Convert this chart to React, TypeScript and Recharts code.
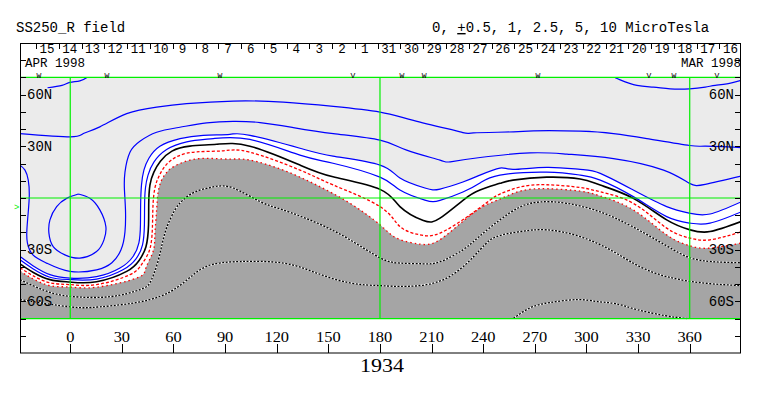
import { Area, ComposedChart, Line, ReferenceLine, Scatter, XAxis, YAxis } from 'recharts';

// map frame: longitude across, latitude up; the frame itself spans +-90 deg
const LON_DOMAIN: [number, number] = [-29.2, 389.8];
const LAT_DOMAIN: [number, number] = [-90, 90];

const LON_TICKS = [0, 30, 60, 90, 120, 150, 180, 210, 240, 270, 300, 330, 360];
const LAT_TICKS = [-80, -70, -60, -50, -40, -30, -20, -10, 0, 10, 20, 30, 40, 50, 60, 70, 80];
const LAT_LABEL_VALUES = [60, 30, -30, -60];
const LAT_LABELS = ['60N', '30N', '30S', '60S'];
const GRID_LONS = [0, 180, 360];

// day-of-month ticks along the top
const DAY_LONS = [
  -19.9, -6.7, 6.6, 19.8, 33.1, 46.3, 59.5, 72.8, 86.0, 99.3, 112.5, 125.7, 139.0, 152.2, 165.5, 178.7,
  191.9, 205.2, 218.4, 231.7, 244.9, 258.1, 271.4, 284.6, 297.9, 311.1, 324.3, 337.6, 350.8, 364.1, 377.3,
];
const DAY_LABELS = [
  '15', '14', '13', '12', '11', '10', '9', '8', '7', '6', '5', '4', '3', '2', '1',
  '31', '30', '29', '28', '27', '26', '25', '24', '23', '22', '21', '20', '19', '18', '17', '16',
];

const MARK_LONS = [-18.2, 21.3, 87.0, 164.3, 192.8, 205.6, 271.8, 336.3, 350.8, 375.8];
const MARK_KINDS = ['W', 'W', 'W', 'V', 'W', 'W', 'W', 'V', 'W', 'V'];
const MARK_LAT = 72;

// contours, [lon, lat]
const POS10_WEST = [[-13.2, 64.0], [-4.8, 65.4], [-0.2, 67.1], [5.6, 68.0], [9.7, 70.0]];
const POS10_EAST = [
  [316.7, 69.8], [319.6, 68.6], [329.3, 65.4], [338.9, 64.4], [348.6, 63.4], [359.9, 63.4],
  [369.0, 64.4], [374.8, 65.4], [381.6, 66.3], [389.8, 68.3],
];
const POS5 = [
  [-29.2, 37.4], [0, 35.5], [7.6, 37.4], [17.2, 41.3], [32.8, 49.0], [50.2, 52.8], [67.6, 54.8],
  [94.8, 56.3], [123.8, 55.7], [152.9, 53.2], [180.0, 49.9], [199.4, 45.1], [226.6, 38.4],
  [234.3, 37.8], [257.6, 38.4], [269.2, 39.0], [296.3, 38.8], [315.7, 37.4], [335.1, 34.5],
  [359.9, 30.5], [369.0, 30.1], [389.8, 29.3],
];
const POS5_LOOP = [
  [4.7, 2.3], [11.4, -0.2], [17.2, -6.9], [20.7, -16.6], [19.6, -24.3], [15.3, -31.1], [5.6, -34.9],
  [-3.1, -33.0], [-9.9, -28.2], [-12.4, -20.4], [-11.8, -12.7], [-7.9, -5.0], [-2.1, -0.2], [4.7, 2.3],
];
const POS2_5 = [
  [-29.2, 19.1], [-26.3, 16.2], [-24.4, 10.4], [-23.8, 1.7], [-24.4, -8.1], [-25.2, -18.5],
  [-24.9, -26.0], [-21.7, -33.0], [-13.7, -37.8], [-0.2, -42.6], [15.3, -41.7], [24.2, -37.6],
  [29.5, -30.1], [31.8, -19.7], [32.1, -6.9], [31.5, 4.6], [31.8, 15.0], [34.7, 26.6], [40.5, 33.0],
  [50.2, 38.2], [63.7, 41.1], [79.3, 43.6], [94.7, 44.5], [110.3, 43.8], [129.6, 40.9], [152.9, 37.4],
  [180.0, 33.6], [195.5, 27.8], [214.9, 22.0], [220.7, 21.0], [238.2, 23.5], [267.2, 26.2],
  [288.6, 25.5], [315.7, 22.9], [344.8, 16.2], [359.9, 8.5], [369.0, 7.9], [389.8, 12.7],
];
const POS1 = [
  [-29.2, -34.0], [-21.7, -39.3], [-11.8, -44.5], [-0.2, -46.5], [15.3, -45.7], [28.9, -40.7],
  [36.4, -34.1], [39.9, -26.0], [40.8, -15.6], [40.9, -4.0], [41.4, 7.5], [42.8, 16.2], [45.7, 23.1],
  [52.1, 30.1], [63.8, 34.5], [77.3, 36.4], [92.8, 37.0], [104.5, 36.4], [133.5, 28.9], [152.7, 24.3],
  [180.0, 19.1], [191.6, 11.6], [206.1, 5.8], [214.9, 5.2], [228.2, 9.3], [238.1, 13.3], [249.7, 17.4],
  [257.3, 16.6], [276.9, 17.8], [296.3, 16.6], [308.0, 14.3], [327.2, 4.6], [346.6, -5.0],
  [360.2, -8.9], [371.8, -9.3], [389.8, -2.3],
];
const POS0_5 = [
  [-29.2, -35.9], [-21.7, -41.1], [-11.8, -46.0], [-0.2, -47.4], [15.3, -47.1], [30.6, -41.7],
  [38.2, -35.3], [42.0, -27.2], [43.1, -15.6], [43.2, -4.0], [43.7, 5.8], [45.2, 13.3], [48.6, 20.8],
  [56.0, 28.1], [67.7, 32.6], [83.1, 34.5], [104.4, 34.0], [133.5, 24.9], [152.7, 20.2], [180.0, 12.1],
  [191.6, 4.6], [206.1, -1.2], [214.9, -1.4], [228.2, 3.5], [238.1, 8.7], [249.7, 13.3], [276.9, 15.0],
  [296.3, 13.3], [308.0, 10.4], [327.2, 0.8], [346.6, -10.8], [360.2, -14.6], [371.8, -14.6],
  [389.8, -8.1],
];
const NEUTRAL = [
  [-29.2, -38.2], [-21.7, -43.1], [-11.8, -47.4], [-0.2, -48.8], [15.3, -48.6], [32.8, -42.6],
  [39.9, -36.4], [44.0, -28.3], [45.5, -15.6], [45.6, -4.0], [46.3, 7.5], [48.6, 15.0], [52.4, 21.4],
  [59.1, 27.2], [69.5, 30.1], [85.1, 31.2], [104.4, 30.1], [133.5, 19.1], [152.7, 12.3], [180.0, 5.0],
  [191.6, -5.0], [205.2, -13.1], [214.9, -11.7], [228.4, -1.2], [238.1, 4.6], [249.7, 8.5],
  [257.3, 10.4], [276.9, 12.1], [296.3, 11.0], [308.0, 7.5], [327.2, -0.2], [346.6, -12.7],
  [360.2, -18.5], [371.8, -19.5], [389.8, -13.7],
];
const NEG0_5 = [
  [-29.2, -40.5], [-21.7, -45.1], [-11.8, -49.2], [-0.2, -50.3], [15.3, -50.3], [34.7, -44.5],
  [41.7, -38.2], [46.3, -29.5], [47.8, -15.6], [48.1, -4.0], [49.2, 5.8], [51.6, 12.7], [55.6, 19.1],
  [62.6, 24.3], [73.5, 26.8], [88.9, 27.4], [104.4, 26.6], [133.5, 16.2], [152.9, 7.5], [180.0, -5.0],
  [191.6, -16.6], [203.2, -21.4], [214.9, -20.4], [232.3, -9.8], [244.0, -1.2], [249.7, 2.3],
  [261.4, 6.4], [276.9, 7.7], [296.3, 6.1], [308.0, 3.6], [327.2, -3.1], [346.6, -17.5],
  [360.2, -23.3], [371.8, -24.3], [389.8, -19.7],
];
const NEG1 = [
  [-29.2, -42.6], [-21.7, -46.9], [-11.8, -50.9], [-0.2, -51.7], [15.3, -51.8], [38.6, -46.5],
  [44.0, -40.5], [48.1, -31.2], [49.2, -21.4], [50.2, -6.9], [51.0, 2.9], [53.1, 10.4], [56.2, 15.0],
  [59.9, 18.1], [69.6, 22.0], [81.2, 23.0], [92.8, 22.6], [104.4, 22.0], [123.8, 16.2], [143.2, 7.5],
  [162.6, -3.1], [180.0, -15.6], [189.7, -23.3], [203.2, -26.8], [213.0, -25.3], [224.6, -16.6],
  [238.1, -6.0], [249.7, -0.6], [261.4, 4.0], [276.9, 5.4], [296.3, 4.0], [308.0, 1.2], [327.2, -6.9],
  [346.6, -21.4], [360.2, -27.8], [371.8, -29.1], [389.8, -26.2],
];
const NEG2_5 = [
  [-29.2, -47.4], [-14.7, -53.8], [0.0, -57.1], [23.1, -57.3], [40.5, -53.2], [46.3, -49.2],
  [50.4, -38.8], [53.3, -27.2], [56.2, -16.8], [60.9, -6.9], [65.5, -1.2], [72.5, 3.5], [82.9, 6.4],
  [94.6, 5.8], [110.3, -2.1], [123.6, -6.9], [143.4, -14.5], [162.6, -24.3], [180.0, -34.7],
  [191.6, -37.8], [205.0, -38.2], [214.9, -37.0], [228.2, -30.1], [238.1, -22.0], [249.7, -12.7],
  [261.4, -5.2], [273.0, -2.3], [288.5, -3.1], [308.0, -8.1], [327.1, -16.8], [346.6, -27.8],
  [360.2, -34.7], [373.6, -37.0], [389.8, -37.6],
];
const NEG5 = [
  [-29.2, -59.0], [0.0, -63.2], [17.3, -63.2], [46.3, -59.0], [65.7, -49.3], [79.3, -39.7],
  [98.6, -36.9], [123.8, -37.8], [143.2, -43.6], [162.6, -49.3], [180.0, -50.9], [195.5, -51.3],
  [218.8, -46.5], [238.1, -30.1], [247.8, -22.4], [261.4, -19.5], [276.9, -18.5], [296.3, -22.4],
  [315.6, -31.1], [335.0, -41.7], [360.2, -48.4], [389.8, -50.9],
];
const NEG10 = [
  [257.5, -70], [267.2, -63.8], [278.8, -60.7], [295.1, -59.0], [306.7, -60.2], [316.6, -61.3],
  [329.4, -64.8], [345.6, -68.3], [358.3, -70],
];

const MONO = '"Liberation Mono", "DejaVu Sans Mono", monospace';
const SERIF = '"Liberation Serif", "DejaVu Serif", serif';
const BLUE = '#0000ff';
const RED = '#ff0000';
const GREEN = '#00f000';
const LIGHT = '#ebebeb';
const DARK = '#a5a5a5';

const toPoints = (rows: number[][]) => rows.map(([lon, lat]) => ({ lon, lat }));

type ContourStyle = { key: string; rows: number[][]; stroke: string; width: number; dash?: string };

const SOLID_CONTOURS: ContourStyle[] = [
  { key: 'p10w', rows: POS10_WEST, stroke: BLUE, width: 1.2 },
  { key: 'p10e', rows: POS10_EAST, stroke: BLUE, width: 1.2 },
  { key: 'p5', rows: POS5, stroke: BLUE, width: 1.2 },
  { key: 'p5loop', rows: POS5_LOOP, stroke: BLUE, width: 1.2 },
  { key: 'p2.5', rows: POS2_5, stroke: BLUE, width: 1.2 },
  { key: 'p1', rows: POS1, stroke: BLUE, width: 1.2 },
  { key: 'p0.5', rows: POS0_5, stroke: BLUE, width: 1.2 },
  { key: 'zero', rows: NEUTRAL, stroke: '#000', width: 1.6 },
  { key: 'n0.5', rows: NEG0_5, stroke: RED, width: 1.3, dash: '3 2' },
  { key: 'n1', rows: NEG1, stroke: RED, width: 1.3, dash: '1.5 3' },
];
const DOTTED_CONTOURS = [NEG2_5, NEG5, NEG10];

const markData = MARK_LONS.map((lon, i) => ({ lon, lat: MARK_LAT, mark: MARK_KINDS[i] }));

function BottomTick({ x, payload }: any) {
  const label = String(payload.value);
  const xx = Math.round(x) + 0.5;
  return (
    <g>
      <line x1={xx} x2={xx} y1={344} y2={353} stroke='#000' />
      <text x={x} y={342} textAnchor='middle' fontFamily={SERIF} fontSize={14}
        textLength={label.length * 8.2} lengthAdjust='spacingAndGlyphs' fill='#000'>
        {label}
      </text>
    </g>
  );
}

function DayTick({ x, index }: any) {
  const xx = Math.round(x) + 0.5;
  const label = DAY_LABELS[index];
  return (
    <g>
      <line x1={xx} x2={xx} y1={43} y2={49} stroke='#000' />
      <text x={x + (label.length === 1 ? 6 : 3.5)} y={53} fontFamily={MONO} fontSize={12.5} fill='#000'>
        {label}
      </text>
    </g>
  );
}

function LatTickLeft({ y, payload }: any) {
  const i = LAT_LABEL_VALUES.indexOf(payload.value);
  const yy = Math.round(y) + 0.5;
  return (
    <g>
      <line x1={20} x2={26} y1={yy} y2={yy} stroke='#000' />
      {i >= 0 && (
        <text x={27} y={y + 4.5} fontFamily={MONO} fontSize={14} fill='#000'>{LAT_LABELS[i]}</text>
      )}
    </g>
  );
}

function LatTickRight({ y, payload }: any) {
  const i = LAT_LABEL_VALUES.indexOf(payload.value);
  const yy = Math.round(y) + 0.5;
  return (
    <g>
      <line x1={735} x2={741} y1={yy} y2={yy} stroke='#000' />
      {i >= 0 && (
        <text x={734} y={y + 4.5} textAnchor='end' fontFamily={MONO} fontSize={14} fill='#000'>{LAT_LABELS[i]}</text>
      )}
    </g>
  );
}

function MarkShape(props: any) {
  const { cx, cy, payload } = props;
  return (
    <text x={cx} y={cy + 4} textAnchor='middle' fontFamily={MONO} fontSize={8} fill='#000'>
      {payload.mark}
    </text>
  );
}

export default function App() {
  return (
    <div style={{ position: 'absolute', left: 0, top: 0, width: 763, height: 396, background: '#fff' }}>
      {/* axes are 1px thick so they still render; margins make the plot 20..741 x 43..353 */}
      <ComposedChart width={763} height={396} margin={{ top: 42, right: 21, bottom: 42, left: 19 }}>
        <XAxis dataKey='lon' type='number' domain={LON_DOMAIN} allowDataOverflow ticks={LON_TICKS}
          interval={0} height={1} axisLine={false} tickLine={false} tick={BottomTick} />
        <XAxis xAxisId='top' dataKey='lon' orientation='top' type='number' domain={LON_DOMAIN} allowDataOverflow
          ticks={DAY_LONS} interval={0} height={1} axisLine={false} tickLine={false} tick={DayTick} />
        <YAxis dataKey='lat' type='number' domain={LAT_DOMAIN} allowDataOverflow ticks={LAT_TICKS}
          interval={0} width={1} axisLine={false} tickLine={false} tick={LatTickLeft} />
        <YAxis yAxisId='right' orientation='right' type='number' domain={LAT_DOMAIN} allowDataOverflow
          ticks={LAT_TICKS} interval={0} width={1} axisLine={false} tickLine={false} tick={LatTickRight} />

        <Area data={toPoints(POS1)} dataKey='lat' type='natural' baseValue={70} stroke='none'
          fill={LIGHT} fillOpacity={1} isAnimationActive={false} dot={false} activeDot={false} />
        <Area data={toPoints(NEG1)} dataKey='lat' type='natural' baseValue={-70} stroke='none'
          fill={DARK} fillOpacity={1} isAnimationActive={false} dot={false} activeDot={false} />

        {DOTTED_CONTOURS.map((rows, i) => (
          <Line key={`dw${i}`} data={toPoints(rows)} dataKey='lat' type='natural' stroke='#fff'
            strokeWidth={1.3} dot={false} activeDot={false} isAnimationActive={false} />
        ))}
        {DOTTED_CONTOURS.map((rows, i) => (
          <Line key={`db${i}`} data={toPoints(rows)} dataKey='lat' type='natural' stroke='#000'
            strokeWidth={1.3} strokeDasharray='2 1.5' dot={false} activeDot={false} isAnimationActive={false} />
        ))}
        {SOLID_CONTOURS.map((c) => (
          <Line key={c.key} data={toPoints(c.rows)} dataKey='lat' type='natural' stroke={c.stroke}
            strokeWidth={c.width} strokeDasharray={c.dash} dot={false} activeDot={false}
            isAnimationActive={false} />
        ))}

        <ReferenceLine y={70} stroke={GREEN} strokeWidth={1.2} />
        <ReferenceLine y={-70} stroke={GREEN} strokeWidth={1.2} />
        <ReferenceLine y={0} stroke={GREEN} strokeWidth={1.2} />
        {GRID_LONS.map((lon) => (
          <ReferenceLine key={lon} segment={[{ x: lon, y: -70 }, { x: lon, y: 70 }]} stroke={GREEN}
            strokeWidth={1.2} />
        ))}

        <Scatter xAxisId='top' data={markData} dataKey='lat' shape={MarkShape} isAnimationActive={false} />
      </ComposedChart>

      <svg width={763} height={396} style={{ position: 'absolute', left: 0, top: 0, pointerEvents: 'none' }}>
        <rect x={20.5} y={43.5} width={720} height={309.5} fill='none' stroke='#000' />
        <text x={16} y={32} fontFamily={MONO} fontSize={14} fill='#000'>SS250_R field</text>
        <text x={432} y={32} fontFamily={MONO} fontSize={14} fill='#000'>
          0, <tspan style={{ textDecoration: 'underline' }}>+</tspan>0.5, 1, 2.5, 5, 10 MicroTesla
        </text>
        <text x={25} y={67} fontFamily={MONO} fontSize={12.5} fill='#000'>APR 1998</text>
        <text x={741} y={67} textAnchor='end' fontFamily={MONO} fontSize={12.5} fill='#000'>MAR 1998</text>
        <text x={14} y={210} fontFamily={MONO} fontSize={9} fill={GREEN}>&gt;</text>
        <text x={382} y={372} textAnchor='middle' fontFamily={SERIF} fontSize={18} textLength={44}
          lengthAdjust='spacingAndGlyphs' fill='#000'>1934</text>
      </svg>
    </div>
  );
}
